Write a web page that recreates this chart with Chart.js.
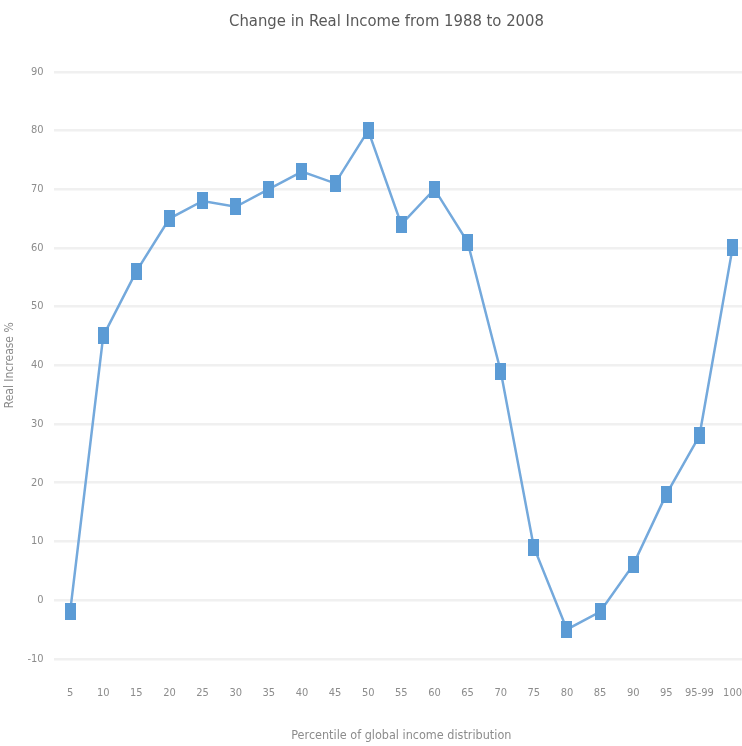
<!DOCTYPE html>
<html>
<head>
<meta charset="utf-8">
<script src="https://cdn.jsdelivr.net/npm/chart.js@4"></script>
<style>
  html, body { margin: 0; padding: 0; background: #ffffff; overflow: hidden; }
  #wrap { width: 742px; height: 746px; overflow: hidden; }
</style>
</head>
<body>
<div id="wrap"><canvas id="incomeChart" width="770" height="746"></canvas></div>
<script>
// percentile categories and real income change (%)
const percentiles = ['5', '10', '15', '20', '25', '30', '35', '40', '45', '50',
  '55', '60', '65', '70', '75', '80', '85', '90', '95', '95-99', '100'];
const realIncrease = [-2, 45, 56, 65, 68, 67, 70, 73, 71, 80,
  64, 70, 61, 39, 9, -5, -2, 6, 18, 28, 60];
const yTicks = [-10, 0, 10, 20, 30, 40, 50, 60, 70, 80, 90];

const narrow = "'Liberation Sans Narrow', 'DejaVu Sans Condensed', sans-serif";

// tall rectangle marker like the original
const marker = document.createElement('canvas');
marker.width = 11;
marker.height = 17;
const mctx = marker.getContext('2d');
mctx.fillStyle = '#5b9bd5';
mctx.fillRect(0, 0, 11, 17);

const ctx = document.getElementById('incomeChart').getContext('2d');

const incomeChart = new Chart(ctx, {
  type: 'line',
  data: {
    labels: percentiles,
    datasets: [{
      label: 'Real Increase %',
      data: realIncrease,
      borderColor: '#74a9dc',
      backgroundColor: '#5b9bd5',
      borderWidth: 2.5,
      tension: 0,
      fill: false,
      pointStyle: marker,
      pointRadius: 6
    }]
  },
  options: {
    responsive: false,
    animation: false,
    layout: { autoPadding: false, padding: { top: 12, right: 0, bottom: 0, left: 3 } },
    plugins: {
      legend: { display: false },
      tooltip: { enabled: false },
      title: {
        display: true,
        text: 'Change in Real Income from 1988 to 2008',
        color: '#595959',
        font: { family: narrow, size: 16.5, weight: 'normal' },
        padding: { top: 0, bottom: 40 },
        // keep the title centred on the visible 742px
        align: 'center'
      }
    },
    scales: {
      y: {
        min: -10,
        max: 90,
        afterBuildTicks: (axis) => { axis.ticks = yTicks.map(v => ({ value: v })); },
        ticks: {
          color: '#8c8c8c',
          font: { family: narrow, size: 11 },
          padding: 10
        },
        grid: { color: '#f0f0f0', lineWidth: 2.5, drawTicks: false },
        border: { display: false },
        title: {
          display: true,
          text: 'Real Increase %',
          color: '#8c8c8c',
          font: { family: narrow, size: 12 },
          padding: { top: 0, bottom: 0 }
        }
      },
      x: {
        offset: true,
        ticks: {
          color: '#8c8c8c',
          font: { family: narrow, size: 11 },
          padding: 28,
          maxRotation: 0,
          autoSkip: false
        },
        grid: { display: false, drawTicks: false },
        border: { display: false },
        title: {
          display: true,
          text: 'Percentile of global income distribution',
          color: '#8c8c8c',
          font: { family: narrow, size: 12.5 },
          padding: { top: 0, bottom: 3 }
        }
      }
    }
  }
});
</script>
</body>
</html>
